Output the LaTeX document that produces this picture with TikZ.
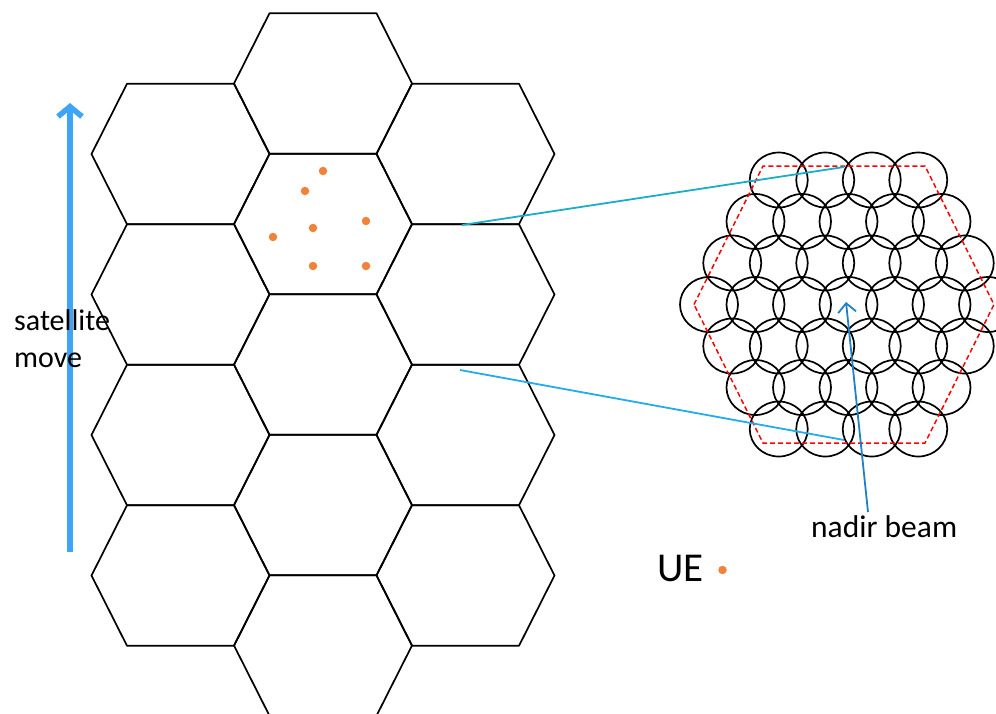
\documentclass[tikz,border=0pt]{standalone}
\usepackage{fontspec}
\setmainfont{Carlito}
\usetikzlibrary{arrows.meta}
\definecolor{uedot}{HTML}{F0823A}
\definecolor{satblue}{HTML}{3EA4F6}
\definecolor{tealline}{HTML}{1AAEC6}
\definecolor{skyline}{HTML}{22ACEE}
\definecolor{nadirblue}{HTML}{2080C4}
\tikzset{
  hexcell/.style={draw=black, line width=1.7pt, line join=round},
  beam/.style={draw=black, line width=1.7pt},
  uept/.style={circle, fill=uedot, inner sep=0pt, minimum size=8.5pt},
  lbl/.style={inner sep=0pt, anchor=base west, text=black},
}
\newcommand{\hexat}[2]{%
  \draw[hexcell] (#1-89,#2) -- (#1-53.5,#2-70.25) -- (#1+53.5,#2-70.25) -- (#1+89,#2) -- (#1+53.5,#2+70.25) -- (#1-53.5,#2+70.25) -- cycle;}
\begin{document}
\begin{tikzpicture}[x=1pt,y=-1pt]
\useasboundingbox (0,0) rectangle (996,713);
\begin{scope}
\clip (0,0) rectangle (996,713);
% hex grid
\foreach \k in {0,...,4}{\hexat{323}{83.5+140.5*\k}}
\foreach \k in {0,...,3}{\hexat{180.5}{154+140.5*\k}\hexat{465.5}{154+140.5*\k}}
% UEs in cell
\foreach \p/\q [count=\i] in {323/171,305/191,366/221,313/228,273/237,313/266,366/266}
  \node[uept] (ue\i) at (\p,\q) {};
% beams
\foreach \row/\n in {-3/4,-2/5,-1/6,0/7,1/6,2/5,3/4}{
  \pgfmathsetmacro{\xs}{848.5-(\n-1)*46.5/2}
  \foreach \j in {1,...,\n}{
    \draw[beam] ({\xs+(\j-1)*46.5},{304.5+\row*41.5}) ellipse [x radius=29, y radius=27.5];
  }
}
\end{scope}
% red dashed hexagon
\draw[red, line width=1.5pt, dash pattern=on 5pt off 3pt]
  (694,304.5) -- (763,166) -- (925,166) -- (994,304.5) -- (925,443) -- (763,443) -- cycle;
% connector lines
\coordinate (cA) at (462,225);
\coordinate (cB) at (844,167);
\coordinate (cC) at (460,370);
\coordinate (cD) at (844,440);
\draw[tealline, line width=1.8pt] (cA) -- (cB);
\draw[skyline, line width=1.8pt] (cC) -- (cD);
% nadir arrow
\coordinate (nadirtail) at (868,512);
\coordinate (nadirtip) at (846,302);
\draw[nadirblue, line width=1.8pt, -{Straight Barb[length=9pt,width=18pt]}] (nadirtail) -- (nadirtip);
% satellite move arrow
\coordinate (sattail) at (70,552);
\coordinate (sattip) at (70,103);
\draw[satblue, line width=5.5pt, -{Straight Barb[length=10pt,width=24pt]}] (sattail) -- (sattip);
% labels
\node[lbl, font=\fontsize{30}{36}\selectfont] (sat) at (14,330) {satellite};
\node[lbl, font=\fontsize{30}{36}\selectfont] (mov) at (14,367) {move};
\node[lbl, font=\fontsize{31.5}{36}\selectfont] (nadir) at (811,537) {nadir beam};
\node[lbl, font=\fontsize{41}{48}\selectfont] (ue) at (657,581) {UE};
\node[uept] (uelegend) at (722.5,570) {};
\end{tikzpicture}
\end{document}
